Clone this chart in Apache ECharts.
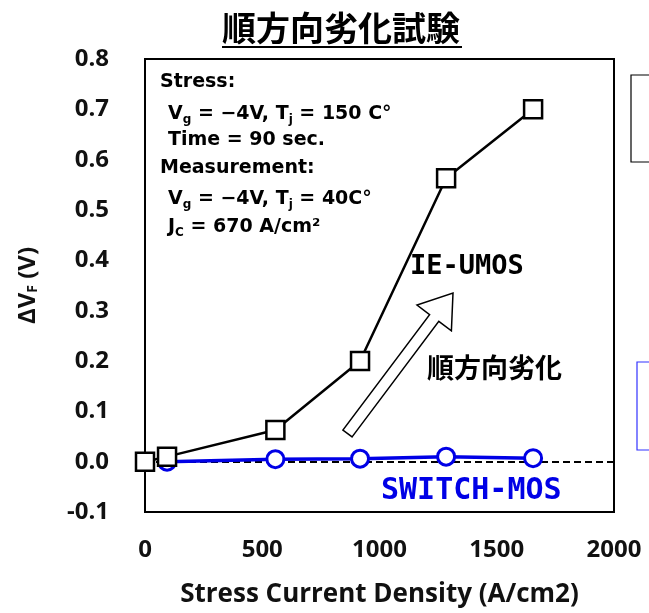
<!DOCTYPE html>
<html>
<head>
<meta charset="utf-8">
<script src="https://cdn.jsdelivr.net/npm/echarts@6/dist/echarts.min.js"></script>
<style>html,body{margin:0;padding:0;background:#fff;}#c{width:649px;height:613px;}</style>
</head>
<body>
<div id="c"></div>
<script>
// ---- data ----
const stressCurrent = [0, 94, 556, 917, 1284, 1655];
const ieUmos = [0.0, 0.01, 0.063, 0.2, 0.563, 0.70];
const switchCurrent = [94, 556, 917, 1284, 1655];
const switchMos = [0.0, 0.005, 0.006, 0.01, 0.007];
const xTicks = [0, 500, 1000, 1500, 2000];
const yTicks = [-0.1, 0.0, 0.1, 0.2, 0.3, 0.4, 0.5, 0.6, 0.7, 0.8];
const titleText = '順方向劣化試験';
const xName = 'Stress Current Density (A/cm2)';

const chart = echarts.init(document.getElementById('c'));
const LAT = "'Open Sans', Lato, sans-serif";
const JP = "'Noto Sans CJK JP', 'Noto Sans', sans-serif";
const BX = "'DejaVu Sans', 'Noto Sans', sans-serif";

const subRich = {
  t: {fontFamily: BX, fontWeight: 'bold', fontSize: 19, color: '#000', lineHeight: 24},
  s: {fontFamily: BX, fontWeight: 'bold', fontSize: 12, color: '#000', lineHeight: 24, padding: [12, 0, 0, 0]}
};
function boxLine(x, y, txt) {
  return {type: 'text', left: x, top: y, z: 50,
    style: {text: txt, rich: subRich, fontFamily: BX, fontWeight: 'bold', fontSize: 19, fill: '#000'}};
}

const option = {
  animation: false,
  backgroundColor: '#fff',
  grid: {left: 145, top: 59, width: 469, height: 455, show: true, borderColor: '#000', borderWidth: 2, backgroundColor: 'transparent'},
  xAxis: {
    type: 'value', min: xTicks[0], max: xTicks[xTicks.length - 1], interval: 500,
    axisLine: {show: false}, axisTick: {show: false}, splitLine: {show: false},
    axisLabel: {margin: 26, fontFamily: LAT, fontWeight: 'bold', fontSize: 24, color: '#111',
      formatter: v => String(v)},
    name: xName, nameLocation: 'middle', nameGap: 70,
    nameTextStyle: {fontFamily: LAT, fontWeight: 'bold', fontSize: 26, color: '#111'}
  },
  yAxis: {
    type: 'value', min: yTicks[0], max: yTicks[yTicks.length - 1], interval: 0.1,
    axisLine: {show: false}, axisTick: {show: false}, splitLine: {show: false},
    axisLabel: {margin: 36, fontFamily: LAT, fontWeight: 'bold', fontSize: 24, color: '#111',
      formatter: v => v.toFixed(1)},
    name: '{a|ΔV}{s|F}{a| (V)}', nameLocation: 'middle', nameGap: 105, nameRotate: 90,
    nameTextStyle: {rich: {
      a: {fontFamily: LAT, fontWeight: 'bold', fontSize: 24, color: '#111'},
      s: {fontFamily: LAT, fontWeight: 'bold', fontSize: 14, color: '#111', padding: [10, 0, 0, 0]}
    }}
  },
  series: [
    {
      name: 'SWITCH-MOS', type: 'line', z: 3, clip: false,
      data: switchCurrent.map((x, i) => [x, switchMos[i]]),
      lineStyle: {color: '#0000e6', width: 3.5},
      symbol: 'circle', symbolSize: 17,
      itemStyle: {color: '#fff', borderColor: '#0000e6', borderWidth: 3}
    },
    {
      name: 'IE-UMOS', type: 'line', z: 4, clip: false,
      data: stressCurrent.map((x, i) => [x, ieUmos[i]]),
      lineStyle: {color: '#000', width: 2.5},
      symbol: 'rect', symbolSize: 18,
      itemStyle: {color: '#fff', borderColor: '#000', borderWidth: 2.5},
      markLine: {silent: true, symbol: 'none', label: {show: false}, z: 2,
        lineStyle: {color: '#000', type: [7, 4], width: 2},
        data: [{yAxis: 0}]}
    }
  ],
  graphic: [
    {type: 'text', left: 222, top: 11, z: 50,
      style: {text: titleText, fontFamily: JP, fontWeight: 'bold', fontSize: 34, fill: '#000'}},
    {type: 'line', z: 50, shape: {x1: 222, y1: 47, x2: 462, y2: 47}, style: {stroke: '#000', lineWidth: 2}},
    boxLine(160, 73, '{t|Stress:}'),
    boxLine(168, 102, '{t|V}{s|g}{t| = −4V, T}{s|j}{t| = 150 C°}'),
    boxLine(168, 131, '{t|Time = 90 sec.}'),
    boxLine(160, 159, '{t|Measurement:}'),
    boxLine(168, 187, '{t|V}{s|g}{t| = −4V, T}{s|j}{t| = 40C°}'),
    boxLine(168, 215, '{t|J}{s|C}{t| = 670 A/cm²}'),
    {type: 'text', left: 410, top: 253, z: 50,
      style: {text: 'IE-UMOS', fontFamily: "'DejaVu Sans Mono', monospace", fontWeight: 'bold', fontSize: 27, fill: '#000'}},
    {type: 'text', left: 427, top: 354, z: 50,
      style: {text: '順方向劣化', fontFamily: JP, fontWeight: 'bold', fontSize: 27, fill: '#000'}},
    {type: 'text', left: 381, top: 476, z: 50,
      style: {text: 'SWITCH-MOS', fontFamily: "'DejaVu Sans Mono', monospace", fontWeight: 'bold', fontSize: 30, fill: '#0000e6'}},
    {type: 'polygon', z: 50,
      shape: {points: [[352.1, 436.9], [438.8, 321.4], [451.4, 330.9], [453, 293], [417, 305.1], [429.6, 314.6], [342.9, 430.1]]},
      style: {fill: '#fff', stroke: '#000', lineWidth: 1.5}},
    {type: 'rect', z: 50, shape: {x: 631, y: 75, width: 30, height: 87}, style: {fill: 'none', stroke: '#000', lineWidth: 1.2}},
    {type: 'rect', z: 50, shape: {x: 637, y: 362, width: 30, height: 88}, style: {fill: 'none', stroke: '#3333ff', lineWidth: 1.2}}
  ]
};
chart.setOption(option);
</script>
</body>
</html>
